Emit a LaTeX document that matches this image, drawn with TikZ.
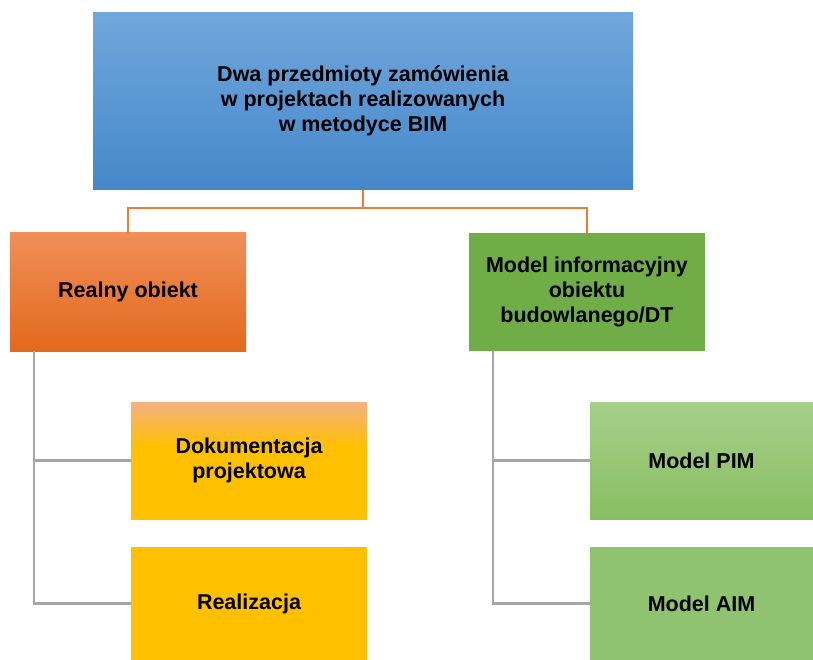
\documentclass[tikz,border=0pt]{standalone}
\usepackage{fontspec}
\setmainfont{Liberation Sans}
\usetikzlibrary{positioning}

% box colours
\definecolor{blueTop}{HTML}{70A7DB}
\definecolor{blueBot}{HTML}{4587CA}
\definecolor{orTop}{HTML}{F08E58}
\definecolor{orMid}{HTML}{F47B25}
\definecolor{orBot}{HTML}{E2691C}
\definecolor{grnDark}{HTML}{70AD47}
\definecolor{ylw}{HTML}{FFC000}
\definecolor{peach}{HTML}{F3B184}
\definecolor{grnLTop}{HTML}{A6CF89}
\definecolor{grnLBot}{HTML}{88BE62}
\definecolor{grnL}{HTML}{8FC36F}
\definecolor{busOrange}{HTML}{ED7D31}
\definecolor{treeGray}{HTML}{A6A6A6}

% peach fading into yellow near the top edge
\pgfdeclareverticalshading{dokshade}{100bp}{%
  color(0bp)=(ylw); color(25bp)=(ylw); color(56bp)=(ylw);
  color(75bp)=(peach); color(100bp)=(peach)}

\tikzset{
  box/.style={draw=none, align=center, inner sep=0pt,
    font=\fontsize{21.5}{25}\selectfont\bfseries, text=black},
  bus/.style={draw=busOrange, line width=2.5pt},
  tree/.style={draw=treeGray, line width=2.5pt}
}

\begin{document}
\begin{tikzpicture}[x=1pt, y=-1pt]
\useasboundingbox (0,0) rectangle (813,660);

% root
\node[box, minimum width=540pt, minimum height=177pt,
      top color=blueTop, bottom color=blueBot] (root) at (363,101.5)
  {\raisebox{-2pt}{\begin{tabular}{@{}c@{}}Dwa przedmioty zamówienia\\w projektach realizowanych\\w metodyce BIM\end{tabular}}};

% first level
\node[box, minimum width=236pt, minimum height=118pt,
      top color=orTop, middle color=orMid, bottom color=orBot] (real) at (128,292)
  {Realny obiekt};
\node[box, minimum width=236pt, minimum height=118pt,
      fill=grnDark] (model) at (587,292)
  {Model informacyjny\\obiektu\\budowlanego/DT};

% second level, left branch
\node[box, minimum width=236pt, minimum height=117pt,
      shading=dokshade] (dok) at (249,460.5)
  {Dokumentacja\\projektowa};
\node[box, minimum width=236pt, minimum height=113pt,
      fill=ylw] (rea) at (249,603.5)
  {\raisebox{-3pt}{Realizacja}};

% second level, right branch
\node[box, minimum width=223pt, minimum height=117pt,
      top color=grnLTop, bottom color=grnLBot] (pim) at (701.5,460.5)
  {Model PIM};
\node[box, minimum width=223pt, minimum height=113pt,
      fill=grnL] (aim) at (701.5,603.5)
  {\raisebox{-3pt}{Model AIM}};

% orange bus from the root
\coordinate (busmid) at (363,208);
\draw[bus] (root.south) -- (busmid) -| (real.north);
\draw[bus] (busmid) -| (model.north);

% gray tree lines
\draw[tree] ([xshift=24pt]real.south west) |- (dok.west);
\draw[tree] ([xshift=24pt]real.south west) |- (rea.west);
\draw[tree] ([xshift=24pt]model.south west) |- (pim.west);
\draw[tree] ([xshift=24pt]model.south west) |- (aim.west);
\end{tikzpicture}
\end{document}
